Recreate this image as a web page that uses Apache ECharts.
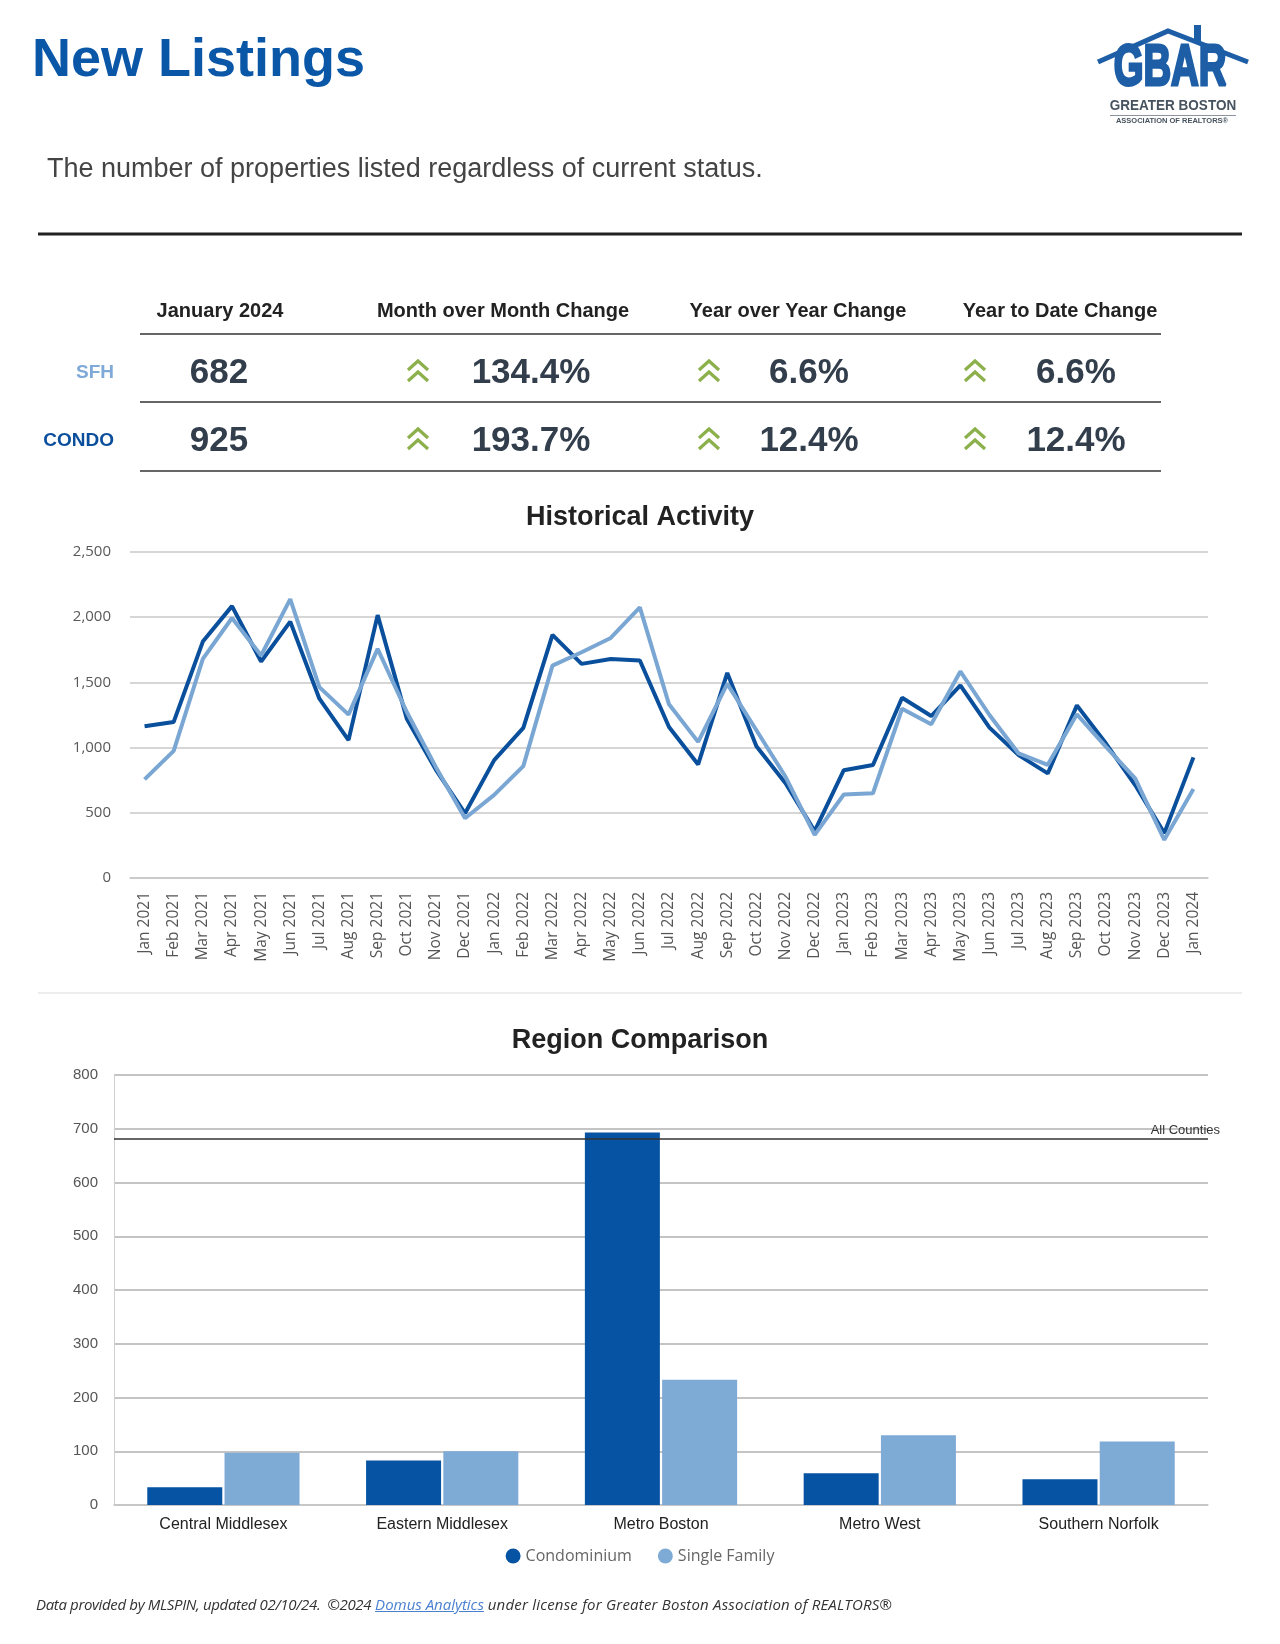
<!DOCTYPE html>
<html><head><meta charset="utf-8">
<script src="https://cdn.jsdelivr.net/npm/echarts@6/dist/echarts.min.js"></script>
<style>
html,body{margin:0;padding:0;background:#fff;}
#wrap{position:relative;width:1280px;height:1644px;}
#c{width:1280px;height:1644px;}
#foot{position:absolute;left:36px;top:1594px;font:italic 15px "Open Sans";color:#333;white-space:nowrap;}
#foot a{color:#4a80d0;text-decoration:underline;}
#foot .pre{letter-spacing:-0.35px;}
#foot .post{letter-spacing:0.2px;}
</style></head><body>
<div id="wrap">
<div id="c"></div>
<div id="foot"><span class="pre">Data provided by MLSPIN, updated 02/10/24.&nbsp; ©2024</span> <a>Domus Analytics</a> <span class="post">under license for Greater Boston Association of REALTORS®</span></div>
</div>
<script>
// ---------- data ----------
const months = ['Jan 2021','Feb 2021','Mar 2021','Apr 2021','May 2021','Jun 2021','Jul 2021','Aug 2021','Sep 2021','Oct 2021','Nov 2021','Dec 2021',
  'Jan 2022','Feb 2022','Mar 2022','Apr 2022','May 2022','Jun 2022','Jul 2022','Aug 2022','Sep 2022','Oct 2022','Nov 2022','Dec 2022',
  'Jan 2023','Feb 2023','Mar 2023','Apr 2023','May 2023','Jun 2023','Jul 2023','Aug 2023','Sep 2023','Oct 2023','Nov 2023','Dec 2023','Jan 2024'];
const condoHist = [1163,1197,1813,2085,1660,1966,1375,1057,2016,1222,830,496,
  904,1151,1864,1642,1680,1668,1158,871,1573,1011,726,360,
  827,866,1382,1242,1477,1153,942,802,1324,1031,713,344,925];
const sfhHist = [756,975,1680,1994,1706,2139,1464,1253,1757,1273,850,458,
  637,858,1629,1731,1841,2075,1332,1044,1489,1133,776,331,
  640,650,1298,1179,1584,1250,955,868,1255,1006,764,293,682];
const regions = ['Central Middlesex','Eastern Middlesex','Metro Boston','Metro West','Southern Norfolk'];
const condoRegion = [33,83,693,59,48];
const sfhRegion = [97,100,233,130,118];
const allCounties = 682;
const tableHeaders = ['January 2024','Month over Month Change','Year over Year Change','Year to Date Change'];
const sfhRow = ['682','134.4%','6.6%','6.6%'];
const condoRow = ['925','193.7%','12.4%','12.4%'];

// ---------- layout helpers ----------
const AR = 'Liberation Sans, Arial, sans-serif';
const g = [];
function txt(t, x, y, font, fill, align, extra){
  g.push(Object.assign({type:'text', x:x, y:y, silent:true,
    style:{text:t, font:font, fill:fill, textAlign:align||'left', textVerticalAlign:'middle'}}, extra||{}));
}
function hline(x1,x2,y,stroke,w){
  g.push({type:'line', silent:true, shape:{x1:x1,y1:y,x2:x2,y2:y}, style:{stroke:stroke, lineWidth:w}});
}
function chevrons(cx, top){
  for (let k=0;k<2;k++){
    const a = top + k*11;
    g.push({type:'polyline', silent:true, shape:{points:[[cx-10,a+10],[cx,a+1],[cx+10,a+10]]},
      style:{stroke:'#8cb04b', lineWidth:3.2, fill:null, lineJoin:'miter'}});
  }
}

// header
txt('New Listings', 32, 61, 'bold 54px ' + AR, '#0a57a8');
txt('The number of properties listed regardless of current status.', 47, 170, '27px ' + AR, '#444');
hline(38, 1242, 234, '#222', 3);

// logo
g.push({type:'polyline', silent:true, shape:{points:[[1098,62],[1168,31],[1248,62]]}, style:{stroke:'#1d5ea6', lineWidth:5, fill:null}});
g.push({type:'rect', silent:true, shape:{x:1194,y:25,width:7,height:17}, style:{fill:'#1d5ea6'}});
g.push({type:'text', silent:true, x:1170, y:98, scaleX:0.66,
  style:{text:'GBAR', font:'bold 58px ' + AR, fill:'#1d5ea6', stroke:'#1d5ea6', lineWidth:3, textAlign:'center', textVerticalAlign:'bottom'}});
g.push({type:'text', silent:true, x:1173, y:113, scaleX:0.9,
  style:{text:'GREATER BOSTON', font:'bold 15px ' + AR, fill:'#46525e', textAlign:'center', textVerticalAlign:'bottom'}});
hline(1110, 1236, 115.5, '#8a949e', 1);
g.push({type:'text', silent:true, x:1172, y:124.5,
  style:{text:'ASSOCIATION OF REALTORS®', font:'bold 7.5px ' + AR, fill:'#46525e', textAlign:'center', textVerticalAlign:'bottom'}});

// table
const headX = [220, 503, 798, 1060];
const valX = [219, 531, 809, 1076];
const arrowX = [418, 709, 975];
tableHeaders.forEach((h,i)=>txt(h, headX[i], 311, 'bold 20px ' + AR, '#222', 'center'));
hline(140, 1161, 334, '#666', 2);
txt('SFH', 114, 373, 'bold 19px ' + AR, '#7fa9d6', 'right');
sfhRow.forEach((v,i)=>txt(v, valX[i], 373, 'bold 35px ' + AR, '#333e4c', 'center'));
arrowX.forEach(x=>chevrons(x, 360));
hline(140, 1161, 402, '#666', 2);
txt('CONDO', 114, 441, 'bold 19px ' + AR, '#0b4f9c', 'right');
condoRow.forEach((v,i)=>txt(v, valX[i], 441, 'bold 35px ' + AR, '#333e4c', 'center'));
arrowX.forEach(x=>chevrons(x, 428));
hline(140, 1161, 471, '#666', 2);

// chart titles and divider
txt('Historical Activity', 640, 518, 'bold 27px ' + AR, '#222', 'center');
hline(38, 1242, 993, '#dcdcdc', 1);
txt('Region Comparison', 640, 1041, 'bold 27px ' + AR, '#222', 'center');

const OS = 'Open Sans';
const option = {
  animation: false,
  backgroundColor: '#fff',
  graphic: g,
  legend: {
    data: ['Condominium','Single Family'],
    left: 'center', top: 1543,
    icon: 'circle', itemWidth: 15, itemHeight: 15, itemGap: 26,
    textStyle: {fontFamily: OS, fontSize: 16, color: '#666'}
  },
  grid: [
    {left: 130, right: 72, top: 552, height: 326},
    {left: 114, right: 72, top: 1075, height: 430}
  ],
  xAxis: [
    {type:'category', gridIndex:0, data: months, boundaryGap: true,
      axisLine:{lineStyle:{color:'#c8c8c8', width:1.5}}, axisTick:{show:false},
      axisLabel:{rotate:90, interval:0, margin:14, fontFamily:OS, fontSize:15.5, color:'#555'}},
    {type:'category', gridIndex:1, data: regions,
      axisLine:{lineStyle:{color:'#c8c8c8', width:1.5}}, axisTick:{show:false},
      axisLabel:{margin:12, fontFamily:AR, fontSize:16, color:'#222'}}
  ],
  yAxis: [
    {type:'value', gridIndex:0, min:0, max:2500, interval:500,
      axisLine:{show:false}, axisTick:{show:false},
      splitLine:{lineStyle:{color:'#c8c8c8', width:1.5}},
      axisLabel:{margin:19, fontFamily:OS, fontSize:15, color:'#595959',
        formatter: v => v.toLocaleString('en-US')}},
    {type:'value', gridIndex:1, min:0, max:800, interval:100,
      axisLine:{show:true, lineStyle:{color:'#d0d0d0', width:1}}, axisTick:{show:false},
      splitLine:{lineStyle:{color:'#c4c4c4', width:1.8}},
      axisLabel:{margin:16, fontFamily:AR, fontSize:15, color:'#555'}}
  ],
  series: [
    {name:'Condo', type:'line', xAxisIndex:0, yAxisIndex:0, data: condoHist, symbol:'none',
      lineStyle:{color:'#0a4f9c', width:4}, itemStyle:{color:'#0a4f9c'}, z:3},
    {name:'SFH', type:'line', xAxisIndex:0, yAxisIndex:0, data: sfhHist, symbol:'none',
      lineStyle:{color:'#7aa6d3', width:4}, itemStyle:{color:'#7aa6d3'}, z:4},
    {name:'Condominium', type:'bar', xAxisIndex:1, yAxisIndex:1, data: condoRegion,
      barWidth: 75, barGap: '3%', itemStyle:{color:'#0653a3'},
      markLine: {silent:true, symbol:'none', animation:false,
        lineStyle:{color:'#333', width:1.5, type:'solid'},
        label:{show:true, position:'insideEndTop', formatter:'All Counties', color:'#333', fontFamily:AR, fontSize:13, distance:[-12, 2]},
        data:[{yAxis: allCounties}]}},
    {name:'Single Family', type:'bar', xAxisIndex:1, yAxisIndex:1, data: sfhRegion,
      barWidth: 75, barGap: '3%', itemStyle:{color:'#7eaad6'}}
  ]
};
const chart = echarts.init(document.getElementById('c'), null, {renderer:'canvas', width:1280, height:1644});
chart.setOption(option);
</script>
</body></html>
